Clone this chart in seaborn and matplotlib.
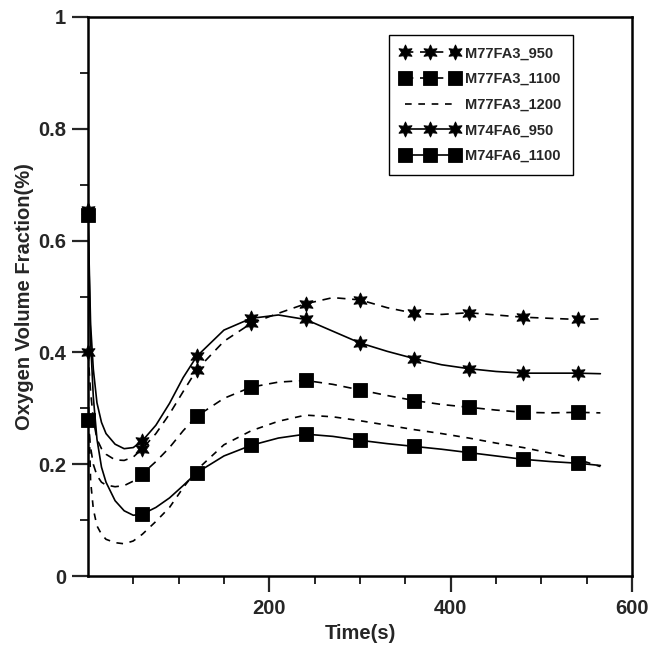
import numpy as np
import pandas as pd
import matplotlib
matplotlib.use('Agg')
import matplotlib.pyplot as plt
from matplotlib.lines import Line2D
import seaborn as sns

# time grid (s)
time_s = [0, 3, 6, 10, 15, 20, 30, 40, 50, 60, 75, 90, 105, 120, 150, 180, 210,
          240, 270, 300, 330, 360, 390, 420, 450, 480, 510, 540, 565]
marker_times = [0, 60, 120, 180, 240, 300, 360, 420, 480, 540]

m77_950 = [0.40, 0.33, 0.28, 0.245, 0.228, 0.218, 0.208, 0.207, 0.213, 0.228, 0.255,
           0.29, 0.33, 0.369, 0.42, 0.452, 0.47, 0.487, 0.498, 0.494, 0.48, 0.470,
           0.468, 0.471, 0.467, 0.463, 0.461, 0.459, 0.46]
m77_1100 = [0.28, 0.23, 0.20, 0.18, 0.168, 0.163, 0.16, 0.162, 0.17, 0.183, 0.205,
            0.23, 0.26, 0.286, 0.318, 0.338, 0.347, 0.350, 0.343, 0.333, 0.323, 0.314,
            0.307, 0.302, 0.297, 0.293, 0.292, 0.293, 0.292]
m77_1200 = [0.35, 0.17, 0.12, 0.09, 0.075, 0.066, 0.06, 0.058, 0.063, 0.075, 0.098,
            0.123, 0.158, 0.19, 0.235, 0.26, 0.277, 0.288, 0.285, 0.278, 0.27, 0.262,
            0.255, 0.247, 0.238, 0.230, 0.22, 0.209, 0.196]
m74_950 = [0.655, 0.45, 0.37, 0.31, 0.275, 0.255, 0.236, 0.228, 0.23, 0.242, 0.27,
           0.309, 0.355, 0.393, 0.44, 0.461, 0.467, 0.459, 0.438, 0.417, 0.402, 0.389,
           0.378, 0.371, 0.366, 0.363, 0.363, 0.363, 0.362]
m74_1100 = [0.645, 0.42, 0.32, 0.245, 0.195, 0.168, 0.135, 0.117, 0.109, 0.111, 0.123,
            0.14, 0.162, 0.185, 0.215, 0.234, 0.247, 0.254, 0.25, 0.243, 0.237, 0.232,
            0.227, 0.221, 0.215, 0.209, 0.205, 0.202, 0.198]

labels = ['M77FA3_950', 'M77FA3_1100', 'M77FA3_1200', 'M74FA6_950', 'M74FA6_1100']
series = [m77_950, m77_1100, m77_1200, m74_950, m74_1100]
styles = [((0, (5, 4)), (6, 1, 0)),
          ((0, (5, 4)), 's'),
          ((0, (4, 4)), None),
          ('-', (6, 1, 0)),
          ('-', 's')]

sns.set_style('ticks')
plt.rcParams['font.family'] = ['Liberation Sans', 'DejaVu Sans']
plt.rcParams['font.weight'] = 'bold'

fig = plt.figure(figsize=(6.51, 6.46), dpi=100)
ax = fig.add_axes([0.135, 0.108, 0.836, 0.866])

handles = []
for lab, vals, (ls, mk) in zip(labels, series, styles):
    df = pd.DataFrame({'t': time_s, 'v': vals})
    sns.lineplot(data=df, x='t', y='v', ax=ax, color='black', linestyle=ls,
                 linewidth=1.2, estimator=None, sort=False, legend=False)
    ms = 10 if mk == 's' else 11
    if mk is not None:
        mdf = df[df['t'].isin(marker_times)]
        ax.plot(mdf['t'], mdf['v'], linestyle='none', marker=mk, ms=ms,
                color='black', markeredgewidth=0.6, clip_on=False, zorder=5)
    handles.append(Line2D([], [], color='black', linestyle=ls, linewidth=1.2,
                          marker=mk, ms=ms, markeredgewidth=0.6))

ax.set_xlim(0, 600)
ax.set_ylim(0, 1)
ax.set_xticks([200, 400, 600])
ax.set_xticks([50, 100, 150, 250, 300, 350, 450, 500, 550], minor=True)
ax.set_yticks([0, 0.2, 0.4, 0.6, 0.8, 1.0])
ax.set_yticklabels(['0', '0.2', '0.4', '0.6', '0.8', '1'])
ax.set_yticks([0.1, 0.3, 0.5, 0.7, 0.9], minor=True)
ax.tick_params(which='major', direction='out', length=11.5, width=1.6,
               labelsize=14.5, pad=4)
ax.tick_params(axis='x', which='major', pad=5)
ax.tick_params(which='minor', direction='out', length=6, width=1.4)
for lbl in ax.get_xticklabels() + ax.get_yticklabels():
    lbl.set_fontweight('bold')
for sp in ax.spines.values():
    sp.set_linewidth(1.8)
    sp.set_color('black')

ax.set_xlabel('Time(s)', fontsize=14.5, fontweight='bold', labelpad=4)
ax.set_ylabel('Oxygen Volume Fraction(%)', fontsize=14.5, fontweight='bold', labelpad=3)

leg = ax.legend(handles, labels, loc='upper right', bbox_to_anchor=(0.8915, 0.968),
                borderaxespad=0, numpoints=3, handlelength=4.0, handletextpad=0.4,
                labelspacing=0.8, fancybox=False, framealpha=1, edgecolor='black',
                prop={'size': 10.5, 'weight': 'bold'}, borderpad=0.8)
leg.get_frame().set_linewidth(1.0)

fig.savefig('out.png', dpi=100)
